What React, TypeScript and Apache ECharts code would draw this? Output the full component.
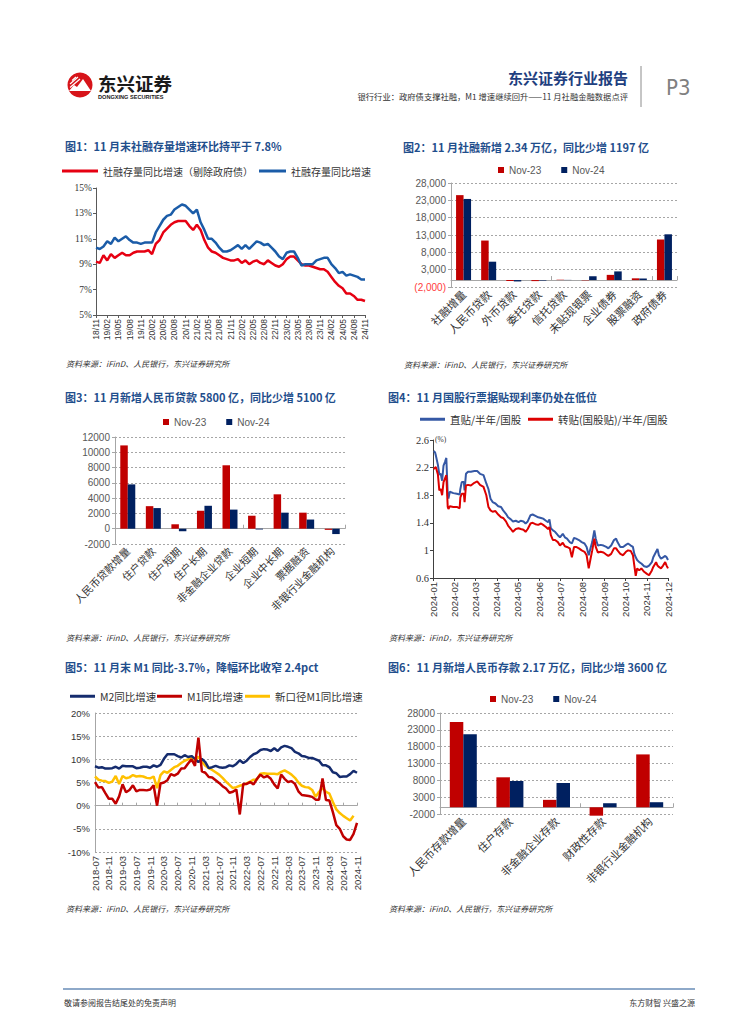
import React, { useEffect, useRef } from 'react';
import * as echarts from 'echarts';

const SANS = '"Liberation Sans", Arial, "Noto Sans CJK SC", sans-serif';
const CJK = '"Noto Sans CJK SC", "Liberation Sans", sans-serif';
const SERIF = '"Liberation Serif", "Times New Roman", "Noto Sans CJK SC", serif';

function monthLabels(y0: number, m0: number, y1: number, m1: number, fmt: (y: number, m: number) => string) {
  const out: string[] = [];
  let y = y0, m = m0;
  while (y < y1 || (y === y1 && m <= m1)) {
    out.push(fmt(y, m));
    m++;
    if (m > 12) { m = 1; y++; }
  }
  return out;
}
const pad = (n: number) => String(n).padStart(2, '0');

// ---------- Chart 1: 社融存量同比增速 ----------
const c1Months = monthLabels(2018, 11, 2024, 11, (y, m) => `${pad(y % 100)}/${pad(m)}`);
const c1ExGov = [
  9.2, 9.1, 9.7, 9.3, 9.8, 9.5, 9.7, 9.9, 9.7, 9.7,
  9.9, 10.0, 10.0, 10.0, 10.1, 9.8, 10.6, 10.9, 11.5, 11.8,
  12.1, 12.3, 12.4, 12.4, 12.4, 12.0, 11.7, 12.1, 11.7, 10.9,
  10.3, 10.0, 9.9, 9.7, 9.5, 9.4, 9.3, 9.3, 9.4, 9.1,
  9.3, 9.0, 9.2, 9.3, 9.1, 9.0, 9.3, 9.1, 8.9, 8.8,
  9.0, 9.4, 9.6, 9.6, 9.3, 9.0, 8.9, 8.9, 8.8, 8.7,
  8.6, 8.6, 8.4, 8.0, 7.6, 7.3, 7.1, 6.7, 6.7, 6.5,
  6.2, 6.2, 6.1,
];
const c1Total = [
  10.3, 10.2, 10.4, 10.8, 10.6, 11.1, 10.8, 11.0, 11.2, 10.9,
  10.7, 10.7, 10.6, 10.7, 10.7, 10.7, 11.5, 12.0, 12.5, 12.8,
  12.9, 13.3, 13.5, 13.7, 13.6, 13.3, 13.0, 13.3, 12.3, 11.7,
  11.0, 11.0, 10.7, 10.3, 10.0, 10.0, 10.1, 10.3, 10.5, 10.2,
  10.5, 10.2, 10.5, 10.8, 10.7, 10.5, 10.6, 10.3, 10.0, 9.6,
  9.4, 9.9, 10.0, 10.0, 9.5, 8.9, 9.0, 9.0, 9.0, 9.3,
  9.4, 9.5, 9.5, 9.0, 8.7, 8.3, 8.4, 8.1, 8.2, 8.1,
  8.0, 7.8, 7.8,
];

// ---------- Chart 2: 社融新增结构 ----------
const c2Cats = ['社融增量', '人民币贷款', '外币贷款', '委托贷款', '信托贷款', '未贴现银票', '企业债券', '股票融资', '政府债券'];
const c2Nov23 = [24500, 11400, -300, -300, 100, -100, 1500, 500, 11700];
const c2Nov24 = [23400, 5300, -400, -150, 50, 1100, 2500, 450, 13200];

// ---------- Chart 3: 新增人民币贷款结构 ----------
const c3Cats = ['人民币贷款增量', '住户贷款', '住户短期', '住户长期', '非金融企业贷款', '企业短期', '企业中长期', '票据融资', '非银行业金融机构'];
const c3Nov23 = [10900, 2950, 580, 2350, 8300, 1700, 4500, 2100, -150];
const c3Nov24 = [5800, 2700, -330, 3000, 2500, -100, 2100, 1200, -700];

// ---------- Chart 4: 票据贴现利率 ----------
const c4Dates = [
  '2024-01-02', '2024-01-04', '2024-01-05', '2024-01-08', '2024-01-10', '2024-01-12', '2024-01-14', '2024-01-16', '2024-01-18', '2024-01-20',
  '2024-01-22', '2024-01-23', '2024-01-25', '2024-01-30', '2024-02-04', '2024-02-08', '2024-02-09', '2024-02-11', '2024-02-14', '2024-02-15',
  '2024-02-17', '2024-02-20', '2024-02-24', '2024-02-29', '2024-03-04', '2024-03-08', '2024-03-13', '2024-03-17', '2024-03-20', '2024-03-23',
  '2024-03-26', '2024-03-30', '2024-04-03', '2024-04-07', '2024-04-10', '2024-04-14', '2024-04-17', '2024-04-21', '2024-04-24', '2024-04-28',
  '2024-05-02', '2024-05-05', '2024-05-09', '2024-05-12', '2024-05-15', '2024-05-19', '2024-05-22', '2024-05-26', '2024-05-30', '2024-06-03',
  '2024-06-06', '2024-06-10', '2024-06-13', '2024-06-15', '2024-06-17', '2024-06-20', '2024-06-23', '2024-06-27', '2024-06-30', '2024-07-04',
  '2024-07-07', '2024-07-10', '2024-07-14', '2024-07-17', '2024-07-20', '2024-07-23', '2024-07-27', '2024-07-31', '2024-08-04', '2024-08-07',
  '2024-08-10', '2024-08-13', '2024-08-15', '2024-08-18', '2024-08-20', '2024-08-23', '2024-08-27', '2024-08-31', '2024-09-04', '2024-09-07',
  '2024-09-11', '2024-09-15', '2024-09-18', '2024-09-20', '2024-09-24', '2024-09-28', '2024-10-02', '2024-10-05', '2024-10-09', '2024-10-12',
  '2024-10-14', '2024-10-16', '2024-10-18', '2024-10-21', '2024-10-24', '2024-10-28', '2024-11-01', '2024-11-04', '2024-11-08', '2024-11-10',
  '2024-11-14', '2024-11-16', '2024-11-18', '2024-11-21', '2024-11-24', '2024-11-27', '2024-11-29', '2024-12-01',
];
const c4Direct = [
  2.44, 2.42, 2.38, 2.24, 2.10, 2.11, 2.01, 2.23, 2.28, 2.34,
  1.80, 1.75, 1.85, 1.83, 1.82, 1.81, 1.89, 1.99, 1.99, 1.87,
  2.11, 2.14, 2.14, 2.15, 2.15, 2.11, 2.09, 1.97, 1.89, 1.75,
  1.70, 1.68, 1.64, 1.63, 1.58, 1.53, 1.48, 1.45, 1.42, 1.43,
  1.41, 1.43, 1.42, 1.39, 1.42, 1.51, 1.52, 1.50, 1.48, 1.47,
  1.46, 1.43, 1.41, 1.45, 1.32, 1.29, 1.27, 1.22, 1.19, 1.24,
  1.19, 1.17, 1.12, 1.10, 1.18, 1.17, 1.15, 1.12, 1.10, 1.05,
  0.93, 1.05, 1.12, 1.29, 1.17, 1.07, 1.08, 1.07, 1.05, 1.03,
  1.07, 1.15, 1.17, 1.12, 1.05, 1.05, 1.08, 1.10, 1.07, 1.05,
  0.95, 0.90, 0.86, 0.83, 0.81, 0.77, 0.76, 0.78, 0.83, 0.90,
  0.98, 1.02, 0.93, 0.88, 0.90, 0.92, 0.90, 0.86,
];
const c4Rediscount = [
  2.18, 2.20, 2.21, 2.10, 1.87, 1.89, 1.80, 1.99, 2.04, 2.09,
  1.63, 1.60, 1.64, 1.63, 1.63, 1.61, 1.77, 1.82, 1.82, 1.70,
  1.94, 1.95, 1.94, 1.98, 2.00, 1.95, 1.92, 1.80, 1.63, 1.58,
  1.56, 1.57, 1.52, 1.48, 1.47, 1.42, 1.36, 1.31, 1.27, 1.31,
  1.32, 1.31, 1.30, 1.27, 1.31, 1.39, 1.40, 1.38, 1.37, 1.39,
  1.37, 1.34, 1.31, 1.34, 1.22, 1.15, 1.15, 1.12, 1.07, 1.11,
  1.06, 1.05, 1.03, 0.90, 1.05, 1.05, 1.03, 1.00, 0.98, 0.93,
  0.74, 0.90, 1.00, 1.17, 1.05, 0.97, 0.98, 0.97, 0.94, 0.92,
  0.95, 1.03, 1.03, 1.00, 0.95, 0.93, 0.98, 1.00, 0.99, 0.93,
  0.78, 0.63, 0.74, 0.71, 0.74, 0.69, 0.66, 0.64, 0.71, 0.76,
  0.83, 0.78, 0.76, 0.74, 0.78, 0.83, 0.78, 0.74,
];

// ---------- Chart 5: M1 / M2 ----------
const c5Months = monthLabels(2018, 7, 2024, 11, (y, m) => `${y}-${pad(m)}`);
const c5M2 = [
  8.5, 8.2, 8.3, 8.0, 8.0, 8.1,
  8.4, 8.0, 8.6, 8.5, 8.5, 8.5, 8.1, 8.2, 8.4, 8.4, 8.2, 8.7,
  8.4, 8.8, 10.1, 11.1, 11.1, 11.1, 10.7, 10.4, 10.9, 10.5, 10.7, 10.1,
  9.4, 10.1, 9.4, 8.1, 8.3, 8.6, 8.3, 8.2, 8.3, 8.7, 8.5, 9.0,
  9.8, 9.2, 9.7, 10.5, 11.1, 11.4, 12.0, 12.2, 12.1, 11.8, 12.4, 11.8,
  12.6, 12.9, 12.7, 12.4, 11.6, 11.3, 10.7, 10.6, 10.3, 10.3, 10.0, 9.7,
  8.7, 8.7, 8.3, 7.2, 7.0, 6.2, 6.3, 6.3, 6.8, 7.5, 7.1,
];
const c5M1 = [
  5.1, 3.9, 4.0, 2.7, 1.5, 1.5,
  0.4, 2.0, 4.6, 2.9, 3.4, 4.4, 3.1, 3.4, 3.4, 3.3, 3.5, 4.4,
  0.0, 4.8, 5.0, 5.5, 6.8, 6.5, 6.9, 8.0, 8.1, 9.1, 10.0, 8.6,
  14.7, 7.4, 7.1, 6.2, 6.1, 5.5, 4.9, 4.2, 3.7, 2.8, 3.0, 3.5,
  -1.9, 4.7, 4.7, 5.1, 4.6, 5.8, 6.7, 6.1, 6.4, 5.8, 4.6, 3.7,
  6.7, 5.8, 5.1, 5.3, 4.7, 3.1, 2.3, 2.2, 2.1, 1.9, 1.3, 1.3,
  5.9, 1.2, 1.1, -1.4, -4.2, -5.0, -6.6, -7.3, -7.4, -6.1, -3.7,
];
const c5NewM1 = [
  6.3, 5.6, 5.4, 5.3, 4.9, 5.2,
  6.4, 4.7, 6.4, 5.9, 6.1, 6.6, 6.3, 6.4, 6.3, 6.0, 5.9, 6.3,
  3.8, 6.6, 7.4, 7.1, 7.7, 8.3, 8.6, 9.2, 9.7, 10.0, 10.3, 9.5,
  10.6, 9.5, 8.6, 8.1, 7.7, 7.2, 6.7, 6.0, 5.2, 4.5, 3.8, 4.0,
  4.3, 4.5, 4.8, 5.2, 5.6, 5.7, 6.9, 7.0, 6.9, 6.9, 6.9, 6.8,
  7.3, 7.6, 7.2, 6.7, 6.0, 5.0, 4.3, 4.0, 3.9, 3.4, 1.9, 3.0,
  3.8, 3.0, 2.6, 0.8, -0.8, -1.6, -2.2, -2.7, -3.2, -2.2, null,
];

// ---------- Chart 6: 新增人民币存款结构 ----------
const c6Cats = ['人民币存款增量', '住户存款', '非金融企业存款', '财政性存款', '非银行业金融机构'];
const c6Nov23 = [25300, 8900, 2200, -2500, 15700];
const c6Nov24 = [21700, 7800, 7200, 1200, 1500];

// ---------- Page texts ----------
const titles = [
  '图1：11 月末社融存量增速环比持平于 7.8%',
  '图2：11 月社融新增 2.34 万亿，同比少增 1197 亿',
  '图3：11 月新增人民币贷款 5800 亿，同比少增 5100 亿',
  '图4：11 月国股行票据贴现利率仍处在低位',
  '图5：11 月末 M1 同比-3.7%，降幅环比收窄 2.4pct',
  '图6：11 月新增人民币存款 2.17 万亿，同比少增 3600 亿',
];
const srcA = '资料来源：iFinD、人民银行，东兴证券研究所';
const srcB = '资料来源：iFinD，东兴证券研究所';

const RED_BAR = '#C00000';
const NAVY_BAR = '#002060';
const GRIDC = '#A6A6A6';

function T(text: string, x: number, y: number, o: any = {}) {
  return {
    type: 'text', x, y, silent: true,
    style: {
      text, fill: o.fill || '#333', fontSize: o.size || 10, fontFamily: o.family || CJK,
      fontWeight: o.weight || 'normal', fontStyle: o.style || 'normal',
      align: o.align || 'left', verticalAlign: 'middle',
    },
  };
}

function lineLegend(name: string, left: number, cy: number, w: number, size: number) {
  return {
    data: [{ name, icon: 'rect' }], left, top: cy - 7, padding: 0, itemWidth: w, itemHeight: 3,
    selectedMode: false, textStyle: { fontSize: size, color: '#333', fontFamily: CJK },
  };
}
function barLegend(left: number, cy: number) {
  return {
    data: [{ name: 'Nov-23', icon: 'rect' }, { name: 'Nov-24', icon: 'rect' }], left, top: cy - 6, padding: 0,
    itemWidth: 6, itemHeight: 6, itemGap: 20, selectedMode: false,
    textStyle: { fontSize: 10, color: '#595959', fontFamily: SANS },
  };
}

function fmtParen(v: number) {
  const s = Math.abs(v).toLocaleString('en-US');
  return v < 0 ? `(${s})` : s;
}
const plain = (v: number) => String(v);

function buildOption() {
  const catLabelAxis = (gi: number, data: string[], size: number) => ({
    gridIndex: gi, type: 'category', data, position: 'bottom',
    axisLine: { show: false, onZero: false }, axisTick: { show: false },
    axisLabel: { interval: 0, rotate: 45, fontSize: size, color: '#333', fontFamily: CJK, margin: 5 },
    splitLine: { show: false },
  });
  const zeroAxis = (gi: number, data: string[]) => ({
    gridIndex: gi, type: 'category', data,
    axisLine: { show: true, onZero: true, lineStyle: { color: GRIDC, width: 1 } },
    axisTick: { show: true, length: 4, lineStyle: { color: GRIDC } },
    axisLabel: { show: false }, splitLine: { show: false },
  });
  const dashed = { show: true, lineStyle: { color: GRIDC, type: [2, 2], width: 1 } };

  return {
    animation: false,
    textStyle: { fontFamily: SANS },
    grid: [
      { left: 96, top: 188, width: 269, height: 127 },
      { left: 451, top: 183, width: 226, height: 104 },
      { left: 115, top: 437, width: 230, height: 107 },
      { left: 433, top: 440, width: 235, height: 138 },
      { left: 95, top: 713, width: 262, height: 139 },
      { left: 440, top: 713, width: 233, height: 101 },
    ],
    xAxis: [
      {
        gridIndex: 0, type: 'category', data: c1Months, boundaryGap: false,
        axisLine: { show: true, lineStyle: { color: '#595959' } },
        axisTick: { show: true, interval: 2, length: 3, lineStyle: { color: '#595959' } },
        axisLabel: { interval: 2, rotate: 90, fontSize: 8.5, color: '#333', margin: 4, fontFamily: SANS },
        splitLine: { show: false },
      },
      catLabelAxis(1, c2Cats, 11),
      zeroAxis(1, c2Cats),
      catLabelAxis(2, c3Cats, 10.5),
      zeroAxis(2, c3Cats),
      {
        gridIndex: 3, type: 'time', min: '2024-01-01', max: '2024-12-01',
        minInterval: 28 * 86400000, maxInterval: 31 * 86400000,
        axisLine: { show: true, lineStyle: { color: '#404040' } },
        axisTick: { show: true, length: 3, lineStyle: { color: '#404040' } },
        axisLabel: { rotate: 90, formatter: '{yyyy}-{MM}', fontSize: 9.5, color: '#333', margin: 4, showMinLabel: true, showMaxLabel: true, fontFamily: SANS },
        splitLine: { show: false },
      },
      {
        gridIndex: 4, type: 'category', data: c5Months, boundaryGap: false, position: 'bottom',
        axisLine: { show: false, onZero: false }, axisTick: { show: false },
        axisLabel: { interval: 3, rotate: 90, fontSize: 9.5, color: '#333', margin: 4, fontFamily: SANS },
        splitLine: { show: false },
      },
      {
        gridIndex: 4, type: 'category', data: c5Months, boundaryGap: false,
        axisLine: { show: true, onZero: true, lineStyle: { color: GRIDC } },
        axisTick: { show: true, interval: 3, length: 3, lineStyle: { color: GRIDC } },
        axisLabel: { show: false }, splitLine: { show: false },
      },
      catLabelAxis(5, c6Cats, 11),
      zeroAxis(5, c6Cats),
    ],
    yAxis: [
      {
        gridIndex: 0, type: 'value', min: 5, max: 15, interval: 2,
        axisLine: { show: true, lineStyle: { color: '#595959' } },
        axisTick: { show: true, length: 3, lineStyle: { color: '#595959' } },
        axisLabel: { formatter: '{value}%', fontSize: 9.5, color: '#333', fontFamily: SERIF, margin: 4 },
        splitLine: { show: false },
      },
      {
        gridIndex: 1, type: 'value', min: -2000, max: 28000, interval: 5000,
        axisLine: { show: true, lineStyle: { color: GRIDC } },
        axisTick: { show: true, length: 3, lineStyle: { color: GRIDC } },
        axisLabel: {
          formatter: (v: number) => fmtParen(v), fontSize: 10, margin: 5, fontFamily: SANS,
          color: (v: any) => (Number(v) < 0 ? '#FF3B3B' : '#595959'),
        },
        splitLine: dashed,
      },
      {
        gridIndex: 2, type: 'value', min: -2000, max: 12000, interval: 2000,
        axisLine: { show: true, lineStyle: { color: GRIDC } },
        axisTick: { show: true, length: 3, lineStyle: { color: GRIDC } },
        axisLabel: { formatter: plain, fontSize: 10, color: '#595959', margin: 5, fontFamily: SANS },
        splitLine: dashed,
      },
      {
        gridIndex: 3, type: 'value', min: 0.6, max: 2.6, interval: 0.4,
        axisLine: { show: true, lineStyle: { color: '#404040' } },
        axisTick: { show: true, length: 3, lineStyle: { color: '#404040' } },
        axisLabel: { fontSize: 10.5, color: '#333', fontFamily: SERIF, margin: 4 },
        splitLine: { show: false },
      },
      {
        gridIndex: 4, type: 'value', min: -10, max: 20, interval: 5,
        axisLine: { show: true, lineStyle: { color: GRIDC } },
        axisTick: { show: false },
        axisLabel: { formatter: '{value}%', fontSize: 9.5, color: '#333', margin: 5, fontFamily: SANS },
        splitLine: dashed,
      },
      {
        gridIndex: 5, type: 'value', min: -2000, max: 28000, interval: 5000,
        axisLine: { show: true, lineStyle: { color: GRIDC } },
        axisTick: { show: true, length: 3, lineStyle: { color: GRIDC } },
        axisLabel: { formatter: plain, fontSize: 10, color: '#595959', margin: 5, fontFamily: SANS },
        splitLine: dashed,
      },
    ],
    legend: [
      lineLegend('社融存量同比增速（剔除政府债）', 62, 173, 36, 10),
      lineLegend('社融存量同比增速', 259, 173, 27, 10),
      barLegend(498, 171),
      barLegend(163, 423),
      lineLegend('直贴/半年/国股', 420, 421, 25, 10.5),
      lineLegend('转贴(国股贴)/半年/国股', 528, 421, 25, 10.5),
      lineLegend('M2同比增速', 70, 698, 25, 10.5),
      lineLegend('M1同比增速', 157, 698, 25, 10.5),
      lineLegend('新口径M1同比增速', 245, 698, 25, 10.5),
      barLegend(490, 700),
    ],
    series: [
      { type: 'line', name: '社融存量同比增速（剔除政府债）', xAxisIndex: 0, yAxisIndex: 0, data: c1ExGov, symbol: 'none', lineStyle: { width: 2.5, color: '#E60012' }, itemStyle: { color: '#E60012' } },
      { type: 'line', name: '社融存量同比增速', xAxisIndex: 0, yAxisIndex: 0, data: c1Total, symbol: 'none', lineStyle: { width: 2.5, color: '#1B5CA8' }, itemStyle: { color: '#1B5CA8' } },

      { type: 'bar', name: 'Nov-23', xAxisIndex: 1, yAxisIndex: 1, data: c2Nov23, barWidth: 7.5, barGap: '0%', itemStyle: { color: RED_BAR } },
      { type: 'bar', name: 'Nov-24', xAxisIndex: 1, yAxisIndex: 1, data: c2Nov24, barWidth: 7.5, barGap: '0%', itemStyle: { color: NAVY_BAR } },

      { type: 'bar', name: 'Nov-23', xAxisIndex: 3, yAxisIndex: 2, data: c3Nov23, barWidth: 7.5, barGap: '0%', itemStyle: { color: RED_BAR } },
      { type: 'bar', name: 'Nov-24', xAxisIndex: 3, yAxisIndex: 2, data: c3Nov24, barWidth: 7.5, barGap: '0%', itemStyle: { color: NAVY_BAR } },

      { type: 'line', name: '直贴/半年/国股', xAxisIndex: 5, yAxisIndex: 3, data: c4Dates.map((d, i) => [d, c4Direct[i]]), symbol: 'none', lineStyle: { width: 2, color: '#3558A5' }, itemStyle: { color: '#3558A5' } },
      { type: 'line', name: '转贴(国股贴)/半年/国股', xAxisIndex: 5, yAxisIndex: 3, data: c4Dates.map((d, i) => [d, c4Rediscount[i]]), symbol: 'none', lineStyle: { width: 2, color: '#DD0000' }, itemStyle: { color: '#DD0000' } },

      { type: 'line', name: '新口径M1同比增速', xAxisIndex: 6, yAxisIndex: 4, data: c5NewM1, symbol: 'none', lineStyle: { width: 2.5, color: '#FFC000' }, itemStyle: { color: '#FFC000' } },
      { type: 'line', name: 'M2同比增速', xAxisIndex: 6, yAxisIndex: 4, data: c5M2, symbol: 'none', lineStyle: { width: 2.5, color: '#152C6E' }, itemStyle: { color: '#152C6E' } },
      { type: 'line', name: 'M1同比增速', xAxisIndex: 6, yAxisIndex: 4, data: c5M1, symbol: 'none', lineStyle: { width: 2.5, color: '#C00000' }, itemStyle: { color: '#C00000' } },

      { type: 'bar', name: 'Nov-23', xAxisIndex: 8, yAxisIndex: 5, data: c6Nov23, barWidth: 13.5, barGap: '0%', clip: false, itemStyle: { color: RED_BAR } },
      { type: 'bar', name: 'Nov-24', xAxisIndex: 8, yAxisIndex: 5, data: c6Nov24, barWidth: 13.5, barGap: '0%', clip: false, itemStyle: { color: NAVY_BAR } },
    ],
    graphic: [
      // logo
      { type: 'circle', shape: { cx: 80, cy: 85, r: 12.5 }, style: { fill: '#D7141A' }, silent: true },
      { type: 'polygon', shape: { points: [[69, 91], [74, 85], [77, 87], [83, 79], [91, 91]] }, style: { fill: '#FFFFFF' }, silent: true },
      { type: 'line', shape: { x1: 70, y1: 84, x2: 78, y2: 77 }, style: { stroke: '#FFFFFF', lineWidth: 1.2 }, silent: true },
      { type: 'line', shape: { x1: 70, y1: 87.5, x2: 80, y2: 79 }, style: { stroke: '#FFFFFF', lineWidth: 1.2 }, silent: true },
      { type: 'line', shape: { x1: 72, y1: 80.5, x2: 76, y2: 77 }, style: { stroke: '#FFFFFF', lineWidth: 1.2 }, silent: true },
      T('东兴证券', 98, 83, { size: 18.5, weight: 'bold', fill: '#1A1A1A' }),
      T('DONGXING SECURITIES', 98, 97, { size: 5.6, weight: 'bold', fill: '#1A1A1A', family: SANS }),
      T('东兴证券行业报告', 628, 77, { size: 15, weight: 'bold', fill: '#1F3F7F', align: 'right' }),
      T('银行行业：政府债支撑社融，M1 增速继续回升——11 月社融金融数据点评', 628, 96, { size: 8.3, fill: '#333', align: 'right' }),
      { type: 'line', shape: { x1: 641, y1: 66, x2: 641, y2: 107 }, style: { stroke: '#8C8C8C', lineWidth: 1 }, silent: true },
      T('P3', 666, 87, { size: 22, fill: '#808080', family: '"Liberation Sans Narrow", "DejaVu Sans Condensed", sans-serif' }),
      // titles
      T(titles[0], 65, 146, { size: 11, weight: 'bold', fill: '#1F4E8C' }),
      T(titles[1], 403, 147, { size: 11, weight: 'bold', fill: '#1F4E8C' }),
      T(titles[2], 65, 397, { size: 11, weight: 'bold', fill: '#1F4E8C' }),
      T(titles[3], 388, 397, { size: 11, weight: 'bold', fill: '#1F4E8C' }),
      T(titles[4], 65, 667, { size: 11, weight: 'bold', fill: '#1F4E8C' }),
      T(titles[5], 388, 667, { size: 11, weight: 'bold', fill: '#1F4E8C' }),
      // unit
      T('(%)', 435, 439, { size: 7.5, fill: '#333', family: SERIF }),
      // sources
      T(srcA, 66, 363, { size: 8, style: 'italic', fill: '#333' }),
      T(srcA, 404, 364, { size: 8, style: 'italic', fill: '#333' }),
      T(srcA, 66, 637, { size: 8, style: 'italic', fill: '#333' }),
      T(srcB, 389, 637, { size: 8, style: 'italic', fill: '#333' }),
      T(srcA, 66, 908, { size: 8, style: 'italic', fill: '#333' }),
      T(srcA, 389, 908, { size: 8, style: 'italic', fill: '#333' }),
      // footer
      { type: 'line', shape: { x1: 63, y1: 989, x2: 695, y2: 989 }, style: { stroke: '#8EA9C9', lineWidth: 2 }, silent: true },
      T('敬请参阅报告结尾处的免责声明', 64, 1002, { size: 8, fill: '#333' }),
      T('东方财智 兴盛之源', 695, 1002, { size: 8, fill: '#333', align: 'right' }),
    ],
  };
}

export default function App() {
  const ref = useRef<HTMLDivElement>(null);
  useEffect(() => {
    if (!ref.current) return;
    const chart = echarts.init(ref.current, undefined, { renderer: 'svg' });
    chart.setOption(buildOption() as any);
    return () => chart.dispose();
  }, []);
  return (
    <div
      ref={ref}
      style={{ position: 'absolute', left: 0, top: 0, width: 755, height: 1024, background: '#FFFFFF' }}
    />
  );
}
